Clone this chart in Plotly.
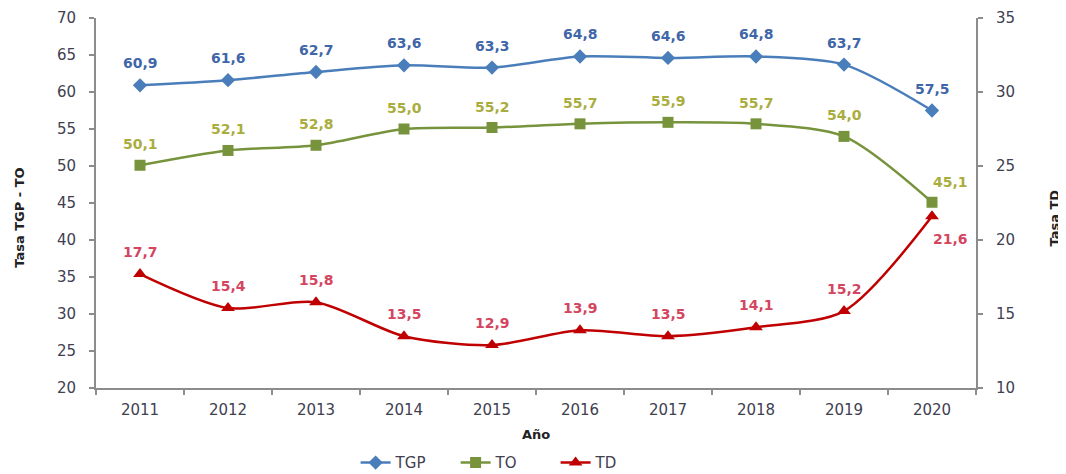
import plotly.graph_objects as go

years = ["2011", "2012", "2013", "2014", "2015", "2016", "2017", "2018", "2019", "2020"]
tgp = [60.9, 61.6, 62.7, 63.6, 63.3, 64.8, 64.6, 64.8, 63.7, 57.5]
to = [50.1, 52.1, 52.8, 55.0, 55.2, 55.7, 55.9, 55.7, 54.0, 45.1]
td = [17.7, 15.4, 15.8, 13.5, 12.9, 13.9, 13.5, 14.1, 15.2, 21.6]

C_TGP, C_TO, C_TD = "#4a7ebb", "#77933c", "#c00000"
L_TGP, L_TO, L_TD = "#3f66a8", "#a9ad3e", "#d4455f"
FONT = "DejaVu Sans"

def fmt(v):
    return f"{v:.1f}".replace(".", ",")

fig = go.Figure()
fig.add_trace(go.Scatter(x=years, y=tgp, name="TGP", mode="lines+markers",
                         line=dict(color=C_TGP, width=2.5, shape="spline", smoothing=0.8),
                         marker=dict(symbol="diamond", size=11, color=C_TGP)))
fig.add_trace(go.Scatter(x=years, y=to, name="TO", mode="lines+markers",
                         line=dict(color=C_TO, width=2.5, shape="spline", smoothing=0.8),
                         marker=dict(symbol="square", size=11, color=C_TO)))
fig.add_trace(go.Scatter(x=years, y=td, name="TD", mode="lines+markers", yaxis="y2",
                         line=dict(color=C_TD, width=2.5, shape="spline", smoothing=0.8),
                         marker=dict(symbol="triangle-up", size=12, color=C_TD)))

lab_font = lambda c: dict(color=c, size=14, family=FONT, weight="bold")
ann = []
for i in range(len(years)):
    ann.append(dict(x=i, y=tgp[i], xref="x", yref="y", text=fmt(tgp[i]), showarrow=False,
                    yshift=22, font=lab_font(L_TGP)))
    if i == len(years) - 1:
        ann.append(dict(x=i, y=to[i], xref="x", yref="y", text=fmt(to[i]), showarrow=False,
                        yshift=20, xshift=18, font=lab_font(L_TO)))
        ann.append(dict(x=i, y=td[i], xref="x", yref="y2", text=fmt(td[i]), showarrow=False,
                        yshift=-23, xshift=18, font=lab_font(L_TD)))
    else:
        ann.append(dict(x=i, y=to[i], xref="x", yref="y", text=fmt(to[i]), showarrow=False,
                        yshift=21, font=lab_font(L_TO)))
        ann.append(dict(x=i, y=td[i], xref="x", yref="y2", text=fmt(td[i]), showarrow=False,
                        yshift=22, font=lab_font(L_TD)))

title_font = dict(size=13, color="#222", family=FONT, weight="bold")
ann.append(dict(x=0.5, y=-0.127, xref="paper", yref="paper", text="Año", showarrow=False,
                xanchor="center", yanchor="middle", font=title_font))
ann.append(dict(x=-0.0864, y=0.46, xref="paper", yref="paper", text="Tasa TGP - TO", textangle=-90,
                xanchor="center", yanchor="middle", showarrow=False, font=title_font))
ann.append(dict(x=1.0895, y=0.46, xref="paper", yref="paper", text="Tasa TD", textangle=-90,
                xanchor="center", yanchor="middle", showarrow=False, font=title_font))

axis_common = dict(showgrid=False, zeroline=False, showline=True, linecolor="#8c8c8c", linewidth=2,
                   ticks="outside", ticklen=5, tickcolor="#8c8c8c", tickwidth=1.5,
                   ticklabeloverflow="allow", automargin=False,
                   tickfont=dict(size=15, color="#404050", family=FONT))

fig.update_layout(
    width=1058, height=466,
    margin=dict(l=88, r=90, t=10, b=86),
    plot_bgcolor="white", paper_bgcolor="white",
    xaxis=dict(**axis_common, type="category", tickson="boundaries", range=[-0.5, 9.5],
               ticklabelstandoff=7),
    yaxis=dict(**axis_common, range=[20, 70], dtick=5, ticklabelstandoff=10),
    yaxis2=dict(**axis_common, range=[10, 35], dtick=5, overlaying="y", side="right",
                ticklabelstandoff=10),
    legend=dict(orientation="h", x=0.295, xanchor="left", yref="container", y=0.024, yanchor="middle",
                entrywidth=55, entrywidthmode="pixels",
                font=dict(size=15, color="#404050", family=FONT)),
    annotations=ann,
)

fig.write_html("out.html")
